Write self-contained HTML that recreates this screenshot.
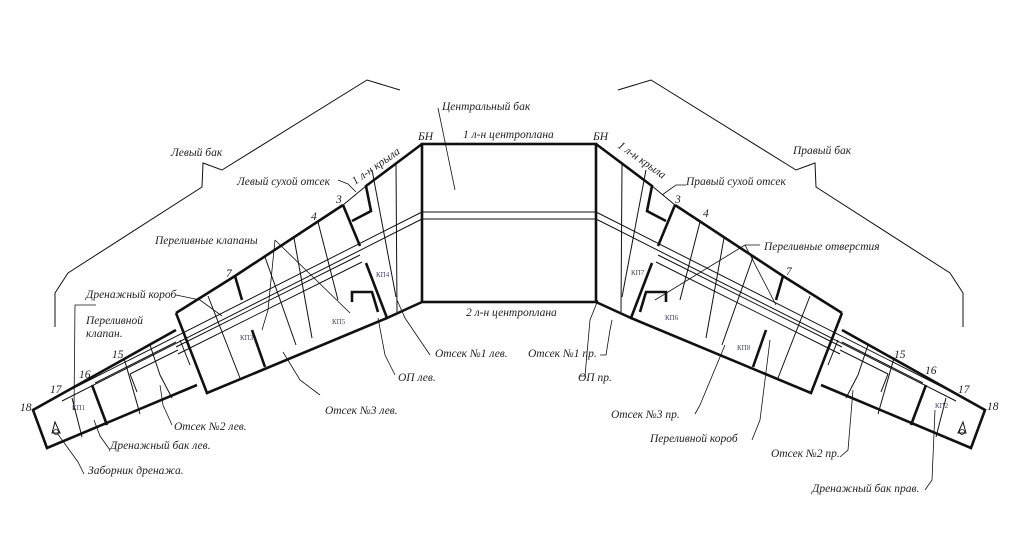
<!DOCTYPE html>
<html><head><meta charset="utf-8"><style>
html,body{margin:0;padding:0;background:#fff;}
svg{display:block}
text{font-family:"Liberation Serif",serif;font-style:italic;font-size:11.5px;fill:#222}
.k{font-size:7px;font-style:normal;fill:#446}
</style></head><body>
<svg width="1024" height="551" viewBox="0 0 1024 551" xmlns="http://www.w3.org/2000/svg">
<rect width="1024" height="551" fill="#fff"/>
<defs>
<g id="half" fill="none" stroke="#111">
  <polyline stroke-width="1" points="55,327 55,293 68,273 202,187 203,163 222,170 367,80 400,90"/>
  <g stroke-width="2.6">
    <polyline points="422,144 366,186 371,211 352,221"/>
    <polyline points="343,205 235,276 176,313"/>
    <polyline points="343,205 360,246"/>
    <polyline points="366,263 387,318 422,302"/>
    <polyline points="176,313 207,393 387,318"/>
    <polyline points="176,330 33,410 47,448 197,385"/>
    <line x1="92" y1="385" x2="107" y2="425"/>
    <line x1="235" y1="276" x2="242" y2="300"/>
    <line x1="252" y1="330" x2="265" y2="367"/>
    <polyline points="352,302 352,292 372,292 378,312"/>
  </g>
  <g stroke-width="1">
    <line x1="366" y1="186" x2="343" y2="205"/>
    <line x1="422" y1="212" x2="60" y2="395"/>
    <line x1="422" y1="219" x2="62" y2="401"/>
    <line x1="360" y1="255" x2="176" y2="347"/>
    <line x1="362" y1="262" x2="178" y2="354"/>
    <line x1="176" y1="342" x2="95" y2="383"/>
    <line x1="178" y1="350" x2="130" y2="374"/>
    <line x1="130" y1="374" x2="137" y2="392"/>
    <line x1="396" y1="163" x2="397" y2="312"/>
    <line x1="372" y1="170" x2="396" y2="297"/>
    <line x1="318" y1="222" x2="338" y2="300"/>
    <line x1="294" y1="238" x2="312" y2="338"/>
    <line x1="265" y1="257" x2="296" y2="345"/>
    <line x1="208" y1="296" x2="240" y2="378"/>
    <line x1="150" y1="345" x2="160" y2="375"/>
    <line x1="124" y1="358" x2="140" y2="414"/>
    <line x1="160" y1="375" x2="172" y2="398"/>
    <line x1="72" y1="398" x2="82" y2="437"/>
    <line x1="180" y1="340" x2="190" y2="365"/>
  </g>
  <path d="M55,422 L52,433 L60,433 Z" stroke-width="1"/>
  <circle cx="56" cy="432" r="2.5" stroke-width="0.8"/>
</g>
</defs>
<use href="#half"/>
<use href="#half" transform="translate(1018,0) scale(-1,1)"/>
<g fill="none" stroke="#111">
  <rect x="422" y="144" width="174" height="158" stroke-width="2.6"/>
  <line x1="422" y1="212" x2="596" y2="212" stroke-width="1"/>
  <line x1="422" y1="219" x2="596" y2="219" stroke-width="1"/>
</g>
<!-- leaders (left) -->
<g fill="none" stroke="#111" stroke-width="0.8">
  <line x1="438" y1="108" x2="455" y2="190"/>
  <polyline points="96,305 75,305 74,410"/>
  <polyline points="176,295 200,300 222,316"/>
  <polyline points="275,240 268,310 262,330"/>
  <polyline points="275,240 350,313"/>
  <polyline points="320,395 300,380 283,352"/>
  <polyline points="395,375 385,355 378,318"/>
  <polyline points="430,355 405,318 397,300"/>
  <polyline points="172,425 163,405 160,385"/>
  <polyline points="110,450 100,436 94,420"/>
  <polyline points="84,474 78,462 57,433"/>
  <polyline points="338,180 348,184 356,192"/>
  <!-- right -->
  <polyline points="686,185 676,185 662,195"/>
  <polyline points="760,245 745,245 655,300"/>
  <polyline points="745,245 776,305"/>
  <polyline points="600,355 606,355 610,330 612,320"/>
  <polyline points="580,376 585,376 590,320 598,300"/>
  <polyline points="695,414 700,405 725,345"/>
  <polyline points="752,440 760,420 770,340"/>
  <polyline points="840,457 848,450 853,390"/>
  <polyline points="925,490 932,480 935,410"/>
</g>
<text x="442" y="110">Центральный бак</text>
<text x="463" y="138">1 л-н центроплана</text>
<text x="466" y="316">2 л-н центроплана</text>
<text x="418" y="140">БН</text>
<text x="593" y="140">БН</text>
<text x="355" y="185" transform="rotate(-35 355 185)">1 л-н крыла</text>
<text x="617" y="147" transform="rotate(35 617 147)">1 л-н крыла</text>
<text x="171" y="156">Левый бак</text>
<text x="793" y="154">Правый бак</text>
<text x="237" y="185">Левый сухой отсек</text>
<text x="686" y="185">Правый сухой отсек</text>
<text x="155" y="244">Переливные клапаны</text>
<text x="764" y="250">Переливные отверстия</text>
<text x="86" y="298">Дренажный короб</text>
<text x="86" y="324">Переливной</text>
<text x="86" y="337">клапан.</text>
<text x="435" y="357">Отсек №1 лев.</text>
<text x="528" y="357">Отсек №1 пр.</text>
<text x="398" y="381">ОП лев.</text>
<text x="578" y="381">ОП пр.</text>
<text x="325" y="414">Отсек №3 лев.</text>
<text x="611" y="418">Отсек №3 пр.</text>
<text x="174" y="430">Отсек №2 лев.</text>
<text x="771" y="457">Отсек №2 пр.</text>
<text x="110" y="449">Дренажный бак лев.</text>
<text x="650" y="442">Переливной короб</text>
<text x="88" y="474">Заборник дренажа.</text>
<text x="812" y="492">Дренажный бак прав.</text>
<text x="336" y="203">3</text><text x="675" y="203">3</text>
<text x="311" y="220">4</text><text x="703" y="217">4</text>
<text x="226" y="277">7</text><text x="786" y="275">7</text>
<text x="112" y="358">15</text><text x="894" y="358">15</text>
<text x="79" y="378">16</text><text x="925" y="374">16</text>
<text x="50" y="393">17</text><text x="958" y="393">17</text>
<text x="20" y="411">18</text><text x="987" y="410">18</text>
<text class="k" x="376" y="277">КП4</text>
<text class="k" x="332" y="324">КП5</text>
<text class="k" x="240" y="340">КП3</text>
<text class="k" x="72" y="410">КП1</text>
<text class="k" x="631" y="275">КП7</text>
<text class="k" x="665" y="320">КП6</text>
<text class="k" x="737" y="350">КП8</text>
<text class="k" x="935" y="408">КП2</text>
</svg>
</body></html>
